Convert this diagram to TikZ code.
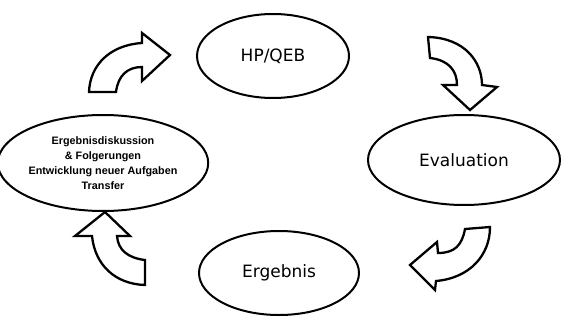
\documentclass[tikz,border=0pt]{standalone}
\usepackage{fontspec}
\setmainfont{DejaVu Sans}
\newfontfamily\kleinfont{Liberation Sans}
\usetikzlibrary{shapes.geometric}
\tikzset{
  phase/.style={draw, ellipse, line width=2pt, inner sep=0pt, font=\fontsize{17}{20}\selectfont},
  bogen/.style={draw, line width=2.3pt, line join=miter, fill=white}
}

\begin{document}
\begin{tikzpicture}[x=1pt,y=-1pt]
\useasboundingbox (0,0) rectangle (564,321);
\node [phase, minimum width=152, minimum height=84] (hpqeb) at (273,56) {HP/QEB};
\node [phase, minimum width=192, minimum height=90] (eval) at (464,160) {Evaluation};
\node [phase, minimum width=160, minimum height=84] (ergebnis) at (279,273) {Ergebnis};
\node [phase, minimum width=194, minimum height=96, align=center,
  font=\kleinfont\bfseries\fontsize{10.8}{15}\selectfont] (diskussion) at (103,163)
  {Ergebnisdiskussion\\\& Folgerungen\\Entwicklung neuer Aufgaben\\Transfer};
% Pfeile
\draw [bogen] (89,92) -- (116,92) .. controls (118,76) and (127,67) .. (142,67)
  -- (142,81) -- (170,55) -- (142,33) -- (142,43) .. controls (110,45) and (90,65) .. cycle;
\draw [bogen] (428,37) -- (430,58) .. controls (448,60) and (457,70) .. (457,85)
  -- (443,85) -- (470,110) -- (497,87) -- (482,85) .. controls (482,62) and (465,38) .. cycle;
\draw [bogen] (465,229) .. controls (462,245) and (455,253) .. (438,253) -- (437,242)
  -- (410,265) -- (435,290) -- (436,281) .. controls (470,278) and (490,255) .. (490,227) -- cycle;
\draw [bogen] (92,236) .. controls (95,265) and (115,284) .. (145,285) -- (145,260)
  .. controls (128,258) and (118,250) .. (117,236) -- (130,236) -- (105,212) -- (75,236) -- cycle;
\end{tikzpicture}
\end{document}
